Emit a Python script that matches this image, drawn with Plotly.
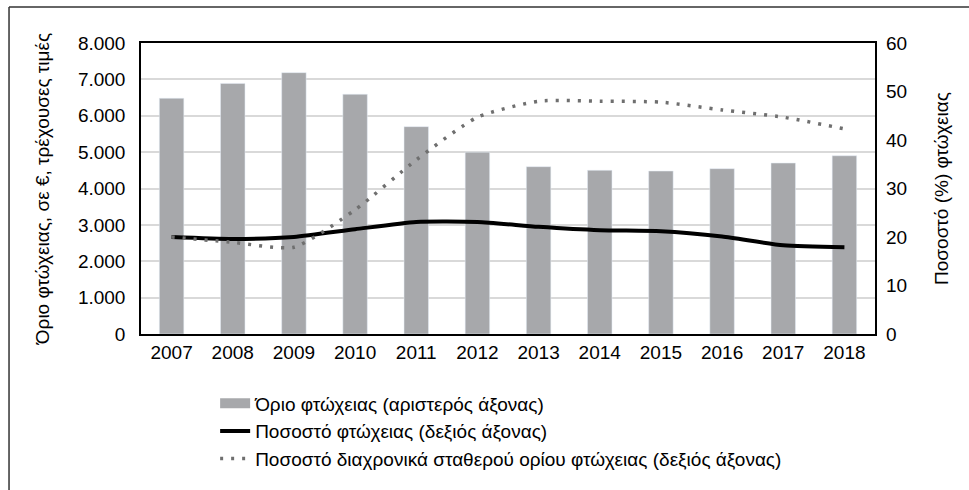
import plotly.graph_objects as go

years = ["2007", "2008", "2009", "2010", "2011", "2012", "2013", "2014", "2015", "2016", "2017", "2018"]
threshold = [6480, 6890, 7185, 6590, 5700, 5000, 4600, 4500, 4480, 4545, 4700, 4900]
poverty_rate = [20.0, 19.6, 20.0, 21.6, 23.1, 23.1, 22.1, 21.4, 21.2, 20.1, 18.3, 17.9]
anchored_rate = [20.0, 18.9, 17.9, 25.6, 35.9, 44.7, 48.0, 48.0, 47.8, 46.2, 44.7, 42.3]

left_ticks = [0, 1000, 2000, 3000, 4000, 5000, 6000, 7000, 8000]
left_labels = ["0", "1.000", "2.000", "3.000", "4.000", "5.000", "6.000", "7.000", "8.000"]
right_ticks = [0, 10, 20, 30, 40, 50, 60]

name_bar = "Όριο φτώχειας (αριστερός άξονας)"
name_rate = "Ποσοστό φτώχειας (δεξιός άξονας)"
name_anchor = "Ποσοστό διαχρονικά σταθερού ορίου φτώχειας (δεξιός άξονας)"

FONT = "Liberation Sans, Arial, sans-serif"
FS = 19
BAR_COLOR = "#a7a8ab"
DOT_COLOR = "#6f6f6f"

fig = go.Figure()

fig.add_trace(go.Bar(x=years, y=threshold, marker_color=BAR_COLOR, width=0.4,
                     showlegend=False, name=name_bar, yaxis="y"))
# legend proxy for the bar series (wide swatch)
fig.add_trace(go.Scatter(x=[None], y=[None], mode="lines", name=name_bar,
                         line=dict(color=BAR_COLOR, width=10), yaxis="y"))
fig.add_trace(go.Scatter(x=years, y=poverty_rate, mode="lines", name=name_rate,
                         line=dict(color="black", width=4, shape="spline", smoothing=0.6),
                         yaxis="y2"))
fig.add_trace(go.Scatter(x=years, y=anchored_rate, mode="lines", name=name_anchor,
                         line=dict(color=DOT_COLOR, width=3.5, dash="3px,8px",
                                   shape="spline", smoothing=0.6),
                         yaxis="y2"))

fig.update_layout(
    width=969, height=490,
    margin=dict(l=141, r=94, t=43, b=156, autoexpand=False),
    paper_bgcolor="white", plot_bgcolor="white",
    font=dict(family=FONT, size=FS, color="black"),
    xaxis=dict(showline=True, linecolor="black", linewidth=1.5, mirror=True,
               ticks="", tickfont=dict(size=FS), showgrid=False, automargin=False),
    yaxis=dict(range=[0, 8000], tickvals=left_ticks, ticktext=left_labels,
               showgrid=True, gridcolor="#d9d9d9", gridwidth=1.5,
               showline=True, linecolor="black", linewidth=1.5, mirror=True,
               ticks="", ticklabelstandoff=10, zeroline=False, automargin=False,
               title=dict(text="Όριο φτώχειας, σε €, τρέχουσες τιμές", standoff=23,
                          font=dict(size=FS))),
    yaxis2=dict(range=[0, 60], tickvals=right_ticks, overlaying="y", side="right",
                showgrid=False, zeroline=False, ticks="", ticklabelstandoff=10,
                automargin=False,
                title=dict(text="Ποσοστό (%) φτώχειας", standoff=28, font=dict(size=FS))),
    legend=dict(x=0.101, y=-0.173, xanchor="left", yanchor="top",
                font=dict(size=FS), tracegroupgap=0, itemwidth=30,
                bgcolor="rgba(0,0,0,0)"),
    shapes=[
        dict(type="line", xref="paper", yref="paper", x0=-0.1798, x1=1.14,
             y0=1.1237, y1=1.1237, line=dict(color="#333333", width=1.5)),
        dict(type="line", xref="paper", yref="paper", x0=-0.1798, x1=-0.1798,
             y0=1.1237, y1=-0.56, line=dict(color="#333333", width=1.5)),
    ],
)

fig.write_html("out.html", config={"displayModeBar": False},
               post_script="document.body.style.margin='0px';")
